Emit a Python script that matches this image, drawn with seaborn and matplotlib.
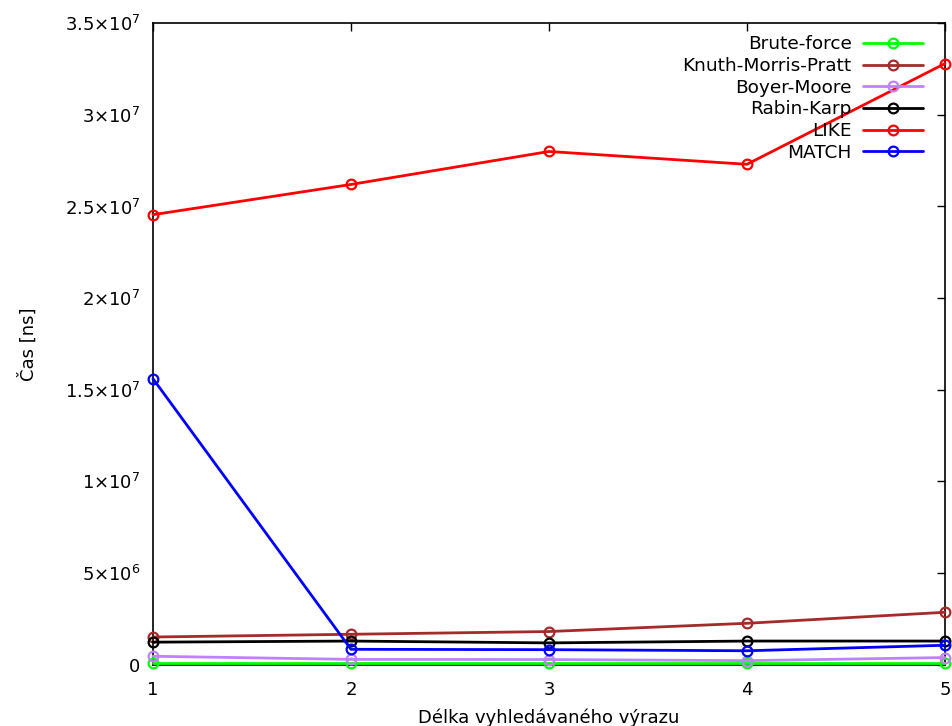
import matplotlib
matplotlib.use("Agg")
import matplotlib.pyplot as plt
import seaborn as sns
import pandas as pd
from matplotlib.ticker import FixedLocator, FixedFormatter

lengths = [1, 2, 3, 4, 5]
brute_force = [0.08e6, 0.08e6, 0.08e6, 0.08e6, 0.08e6]
kmp = [1.50e6, 1.65e6, 1.80e6, 2.25e6, 2.85e6]
boyer_moore = [0.45e6, 0.28e6, 0.27e6, 0.21e6, 0.38e6]
rabin_karp = [1.22e6, 1.28e6, 1.18e6, 1.28e6, 1.28e6]
like = [24.55e6, 26.2e6, 28.0e6, 27.3e6, 32.8e6]
match = [15.6e6, 0.83e6, 0.81e6, 0.75e6, 1.05e6]

series_names = ["Brute-force", "Knuth-Morris-Pratt", "Boyer-Moore", "Rabin-Karp", "LIKE", "MATCH"]
series_values = [brute_force, kmp, boyer_moore, rabin_karp, like, match]
colors = ["#00ff00", "#a52a2a", "#c080ff", "#000000", "#ff0000", "#0000ff"]

y_ticks = [0, 5e6, 1e7, 1.5e7, 2e7, 2.5e7, 3e7, 3.5e7]
y_tick_labels = ["0", r"$5{\times}10^{6}$", r"$1{\times}10^{7}$", r"$1.5{\times}10^{7}$",
                 r"$2{\times}10^{7}$", r"$2.5{\times}10^{7}$", r"$3{\times}10^{7}$", r"$3.5{\times}10^{7}$"]

sns.set_theme(style="white")
plt.rcParams["font.family"] = ["DejaVu Sans"]
plt.rcParams["mathtext.fontset"] = "dejavusans"
plt.rcParams["mathtext.default"] = "regular"

rows = []
for name, vals in zip(series_names, series_values):
    for x, v in zip(lengths, vals):
        rows.append({"x": x, "y": v, "series": name})
df = pd.DataFrame(rows)

fig = plt.figure(figsize=(9.53, 7.26), dpi=100)
ax = fig.add_axes([0.1605, 0.0847, 0.8311, 0.8833])

for name, col in zip(series_names, colors):
    sub = df[df["series"] == name]
    sns.lineplot(data=sub, x="x", y="y", ax=ax, color=col, linewidth=2.0,
                 marker="o", markersize=7, markerfacecolor="none",
                 markeredgecolor=col, markeredgewidth=1.6, label=name, clip_on=False)

ax.set_xlim(1, 5)
ax.set_ylim(0, 3.5e7)
ax.xaxis.set_major_locator(FixedLocator(lengths))
ax.yaxis.set_major_locator(FixedLocator(y_ticks))
ax.yaxis.set_major_formatter(FixedFormatter(y_tick_labels))
ax.tick_params(axis="both", direction="in", length=6, width=1, color="black",
               labelsize=13, top=True, right=True, labelcolor="black")
ax.tick_params(axis="x", pad=12)
ax.tick_params(axis="y", pad=9)
for sp in ax.spines.values():
    sp.set_color("black")
    sp.set_linewidth(1.2)
    sp.set_zorder(1)

ax.set_xlabel("Délka vyhledávaného výrazu", fontsize=13, color="black")
ax.set_ylabel("Čas [ns]", fontsize=13, color="black")
ax.xaxis.set_label_coords(0.5, -0.068)
ax.yaxis.set_label_coords(-0.146, 0.5)

leg = ax.legend(loc="upper right", bbox_to_anchor=(0.972, 0.981), frameon=False,
                markerfirst=False, fontsize=13.3, handlelength=3.25, handletextpad=0.6,
                labelspacing=0.2, borderaxespad=0, borderpad=0)
for t in leg.get_texts():
    t.set_color("black")

fig.savefig("out.png", dpi=100)
